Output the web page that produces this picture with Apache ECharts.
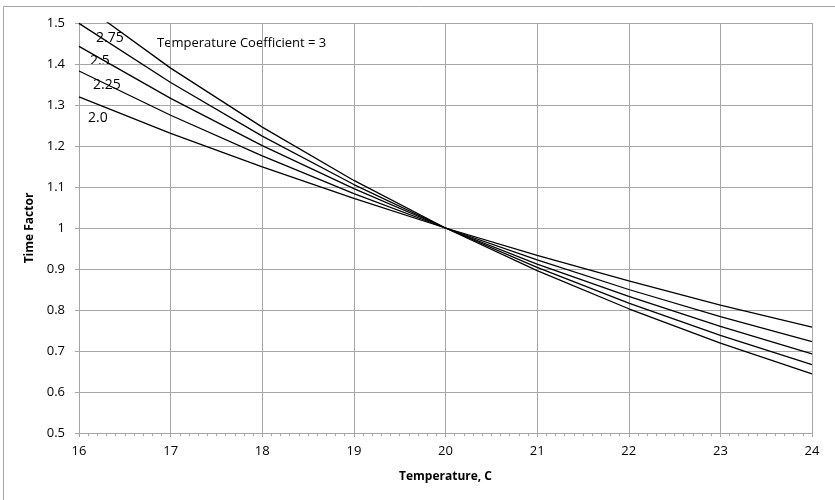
<!DOCTYPE html>
<html>
<head>
<meta charset="utf-8">
<script src="https://cdn.jsdelivr.net/npm/echarts@6/dist/echarts.min.js"></script>
<style>
html,body{margin:0;padding:0;background:#fff;}
#chart{width:835px;height:500px;}
</style>
</head>
<body>
<div id="chart"></div>
<script>
const temperatures = [16, 17, 18, 19, 20, 21, 22, 23, 24];
const coef2_0  = [1.320, 1.231, 1.149, 1.072, 1.000, 0.933, 0.871, 0.812, 0.758];
const coef2_25 = [1.383, 1.275, 1.176, 1.084, 1.000, 0.922, 0.850, 0.784, 0.723];
const coef2_5  = [1.443, 1.316, 1.201, 1.096, 1.000, 0.912, 0.833, 0.760, 0.693];
const coef2_75 = [1.499, 1.355, 1.224, 1.106, 1.000, 0.904, 0.817, 0.738, 0.667];
const coef3_0  = [1.552, 1.390, 1.246, 1.116, 1.000, 0.896, 0.803, 0.719, 0.644];
const seriesNames = ['2.0', '2.25', '2.5', '2.75', 'Temperature Coefficient = 3'];
const seriesValues = [coef2_0, coef2_25, coef2_5, coef2_75, coef3_0];

const FONT = '"Open Sans", "Noto Sans", sans-serif';
const chart = echarts.init(document.getElementById('chart'));
const gridColor = '#a6a6a6';

const option = {
  animation: false,
  backgroundColor: '#fff',
  grid: { left: 79, right: 23, top: 23, bottom: 67, containLabel: false },
  xAxis: {
    type: 'value', min: 16, max: 24, interval: 1,
    name: 'Temperature, C', nameLocation: 'middle', nameGap: 38,
    nameTextStyle: { fontFamily: FONT, fontWeight: 'bold', fontSize: 12, color: '#000' },
    axisLine: { show: true, lineStyle: { color: gridColor, width: 1 } },
    axisTick: { show: true, length: 4, inside: false, lineStyle: { color: gridColor } },
    minorTick: { show: true, splitNumber: 10, length: 3, lineStyle: { color: gridColor } },
    axisLabel: { fontFamily: FONT, fontSize: 13, color: '#000', margin: 12 },
    splitLine: { show: true, lineStyle: { color: gridColor, width: 1 } }
  },
  yAxis: {
    type: 'value', min: 0.5, max: 1.5, interval: 0.1,
    name: 'Time Factor', nameLocation: 'middle', nameGap: 40,
    nameTextStyle: { fontFamily: FONT, fontWeight: 'bold', fontSize: 12, color: '#000' },
    axisLine: { show: true, lineStyle: { color: gridColor, width: 1 } },
    axisTick: { show: true, length: 4, lineStyle: { color: gridColor } },
    axisLabel: { fontFamily: FONT, fontSize: 13, color: '#000', margin: 14,
      formatter: v => String(Math.round(v * 10) / 10) },
    splitLine: { show: true, lineStyle: { color: gridColor, width: 1 } }
  },
  series: seriesValues.map((vals, i) => ({
    name: seriesNames[i],
    type: 'line',
    data: temperatures.map((t, j) => [t, vals[j]]),
    showSymbol: false,
    smooth: false,
    clip: true,
    lineStyle: { color: '#000', width: 1.3 },
    z: 3
  })),
  graphic: [
    { type: 'polyline', silent: true, shape: { points: [[3.5, 500], [3.5, 6.5], [835, 6.5]] },
      style: { stroke: '#a6a6a6', lineWidth: 1, fill: null } },
    { type: 'text', left: 96, top: 31, style: { text: '2.75', font: '14px ' + FONT, fill: '#000' } },
    { type: 'text', left: 157, top: 37, style: { text: 'Temperature Coefficient = 3', font: '13px ' + FONT, fill: '#000' } },
    { type: 'text', left: 90, top: 54, style: { text: '2.5', font: '14px ' + FONT, fill: '#000' } },
    { type: 'text', left: 93, top: 78, style: { text: '2.25', font: '14px ' + FONT, fill: '#000' } },
    { type: 'text', left: 88, top: 111, style: { text: '2.0', font: '14px ' + FONT, fill: '#000' } }
  ]
};
chart.setOption(option);
</script>
</body>
</html>
